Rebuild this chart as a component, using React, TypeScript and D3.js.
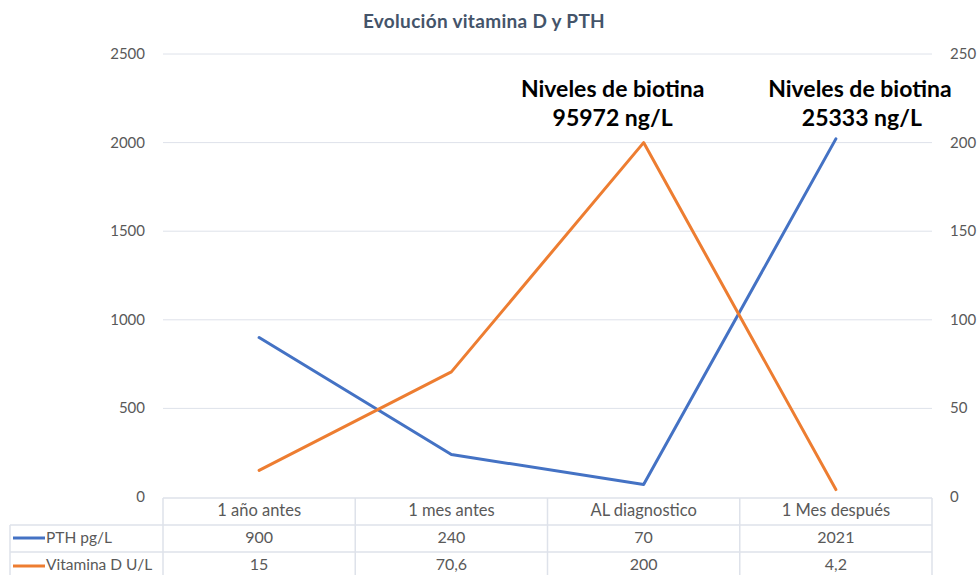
import React from "react";
import * as d3 from "d3";

const categories = ["1 año antes", "1 mes antes", "AL diagnostico", "1 Mes después"];
const pthValues = [900, 240, 70, 2021];
const vitDValues = [15, 70.6, 200, 4.2];
const pthLabels = ["900", "240", "70", "2021"];
const vitDLabels = ["15", "70,6", "200", "4,2"];
const leftTicks = [0, 500, 1000, 1500, 2000, 2500];
const rightTicks = [0, 50, 100, 150, 200, 250];
const seriesNames = ["PTH pg/L", "Vitamina D U/L"];
const annotations = [
  { idx: 2, lines: ["Niveles de biotina", "95972 ng/L"], dx: [-31, -31] },
  { idx: 3, lines: ["Niveles de biotina", "25333 ng/L"], dx: [24, 26] },
];

const W = 980, H = 575;
const left = 163, right = 932, top = 54, bottom = 497;
const FONT = "Lato, 'Open Sans', sans-serif";
const TXT = "#595959";
const GRID = "#DEE2EA";
const BLUE = "#4472C4";
const ORANGE = "#ED7D31";

export default function App() {
  const x = d3.scaleBand<string>().domain(categories).range([left, right]).padding(0);
  const yL = d3.scaleLinear().domain([0, 2500]).range([bottom, top]);
  const yR = d3.scaleLinear().domain([0, 250]).range([bottom, top]);
  const cx = (c: string) => (x(c) as number) + x.bandwidth() / 2;
  const lineL = d3.line<number>().x((_, i) => cx(categories[i])).y((d) => yL(d));
  const lineR = d3.line<number>().x((_, i) => cx(categories[i])).y((d) => yR(d));
  const rowTop = [498, 525, 552, 579];
  const colEdges = [...categories.map((c) => x(c) as number), right];

  return (
    <svg width={W} height={H} style={{ position: "absolute", left: 0, top: 0, background: "#fff" }}>
      <rect width={W} height={H} fill="#fff" />
      <text x={484} y={28} textAnchor="middle" fontFamily={FONT} fontWeight="bold" fontSize={19} fill="#44546A" letterSpacing={0.3}>
        Evolución vitamina D y PTH
      </text>
      {leftTicks.slice(1).map((t) => (
        <line key={t} x1={left} x2={right} y1={yL(t)} y2={yL(t)} stroke={GRID} strokeWidth={1} />
      ))}
      {leftTicks.map((t) => (
        <text key={"l" + t} x={145} y={yL(t) + 5} textAnchor="end" fontFamily={FONT} fontSize={15} fill={TXT}>
          {t}
        </text>
      ))}
      {rightTicks.map((t) => (
        <text key={"r" + t} x={950} y={yR(t) + 5} textAnchor="start" fontFamily={FONT} fontSize={15} fill={TXT}>
          {t}
        </text>
      ))}
      {/* table */}
      <g stroke={GRID} strokeWidth={1.5} fill="none">
        <line x1={left} x2={right} y1={rowTop[0]} y2={rowTop[0]} />
        <line x1={10} x2={right} y1={rowTop[1]} y2={rowTop[1]} />
        <line x1={10} x2={right} y1={rowTop[2]} y2={rowTop[2]} />
        <line x1={10} x2={10} y1={rowTop[1]} y2={H} />
        {colEdges.map((e, i) => (
          <line key={i} x1={e} x2={e} y1={rowTop[0]} y2={H} />
        ))}
      </g>
      {categories.map((c, i) => (
        <g key={c} fontFamily={FONT} fill={TXT} textAnchor="middle">
          <text x={cx(c)} y={516} fontSize={16.5}>{c}</text>
          <text x={cx(c)} y={543} fontSize={16}>{pthLabels[i]}</text>
          <text x={cx(c)} y={570} fontSize={16}>{vitDLabels[i]}</text>
        </g>
      ))}
      <line x1={13} x2={45} y1={538} y2={538} stroke={BLUE} strokeWidth={3} />
      <line x1={13} x2={45} y1={566} y2={566} stroke={ORANGE} strokeWidth={3} />
      <text x={46} y={543} fontFamily={FONT} fontSize={15.5} fill={TXT}>{seriesNames[0]}</text>
      <text x={46} y={570} fontFamily={FONT} fontSize={15.5} fill={TXT}>{seriesNames[1]}</text>
      {/* lines */}
      <path d={lineL(pthValues) || ""} fill="none" stroke={BLUE} strokeWidth={3} strokeLinejoin="round" strokeLinecap="round" />
      <path d={lineR(vitDValues) || ""} fill="none" stroke={ORANGE} strokeWidth={3} strokeLinejoin="round" strokeLinecap="round" />
      {annotations.map((a, k) => (
        <g key={k} fontFamily={FONT} fontWeight="bold" fontSize={23} fill="#000" textAnchor="middle">
          <text x={cx(categories[a.idx]) + a.dx[0]} y={97}>{a.lines[0]}</text>
          <text x={cx(categories[a.idx]) + a.dx[1]} y={126}>{a.lines[1]}</text>
        </g>
      ))}
    </svg>
  );
}
